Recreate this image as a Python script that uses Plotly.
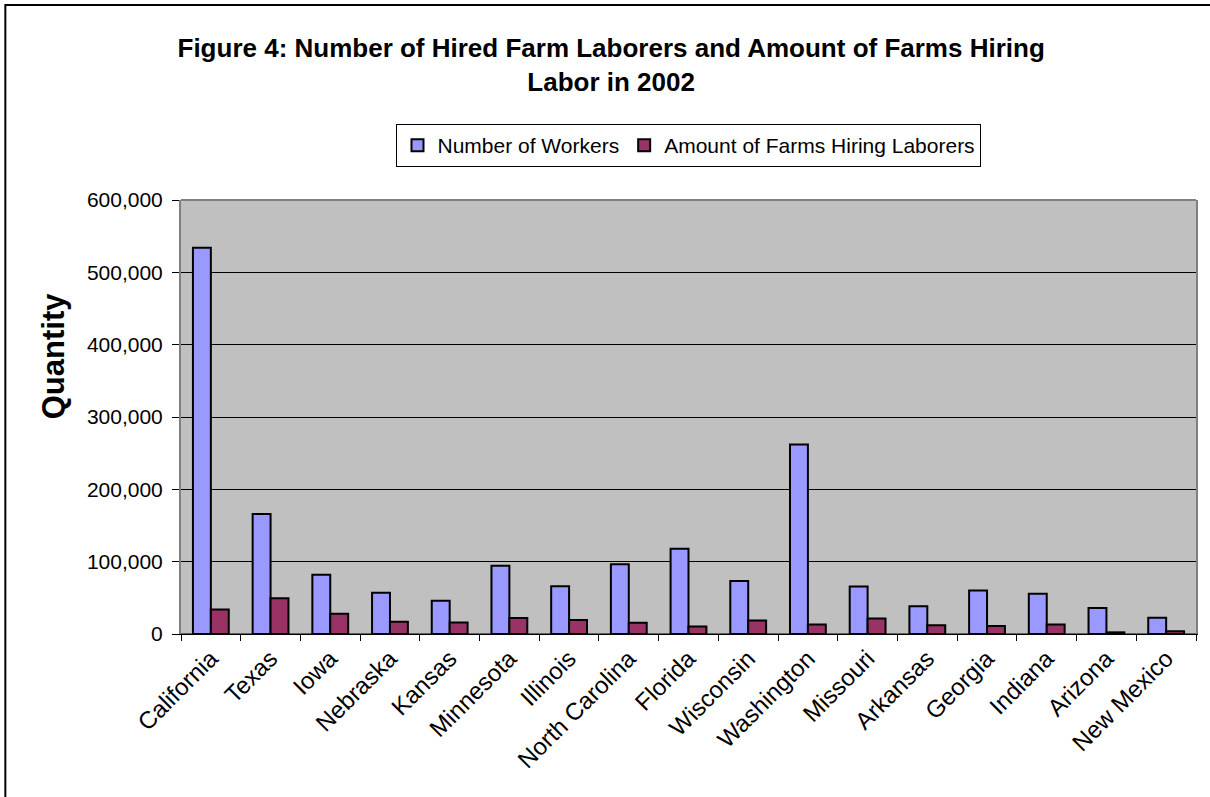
import plotly.graph_objects as go

states = ["California", "Texas", "Iowa", "Nebraska", "Kansas", "Minnesota", "Illinois",
          "North Carolina", "Florida", "Wisconsin", "Washington", "Missouri", "Arkansas",
          "Georgia", "Indiana", "Arizona", "New Mexico"]
workers = [534000, 166000, 82000, 57000, 46000, 94500, 66000,
           96500, 118000, 73400, 262000, 65600, 38500,
           60000, 55500, 36000, 22500]
farms = [34000, 49500, 28000, 17000, 16000, 22000, 19300,
         15600, 10500, 18800, 13300, 21500, 12000,
         11000, 13300, 2300, 3700]
y_ticks = [0, 100000, 200000, 300000, 400000, 500000, 600000]

W, H = 1210, 797
ML, MR, MT, MB = 181, 12, 200, 163
PW, PH = W - ML - MR, H - MT - MB


def px_x(p):
    return (p - ML) / PW


def px_y(p):
    return 1 - (p - MT) / PH


FONT = "Arial, Liberation Sans, sans-serif"

fig = go.Figure()
fig.add_trace(go.Bar(x=states, y=workers, name="Number of Workers",
                     marker=dict(color="#9999FF", line=dict(color="black", width=2))))
fig.add_trace(go.Bar(x=states, y=farms, name="Amount of Farms Hiring Laborers",
                     marker=dict(color="#993366", line=dict(color="black", width=2))))

fig.update_layout(
    width=W, height=H,
    autosize=False,
    margin=dict(l=ML, r=MR, t=MT, b=MB, pad=0),
    paper_bgcolor="white",
    plot_bgcolor="#C0C0C0",
    barmode="group",
    bargap=0.4,
    bargroupgap=0,
    font=dict(family=FONT, color="black"),
    title=dict(text="<b>Figure 4: Number of Hired Farm Laborers and Amount of Farms Hiring<br>Labor in 2002</b>",
               x=px_x(612), xref="paper", xanchor="center",
               y=1 - 57 / H, yref="container", yanchor="top",
               font=dict(size=26, family=FONT, color="black")),
    legend=dict(orientation="h", x=px_x(690), xanchor="center",
                y=px_y(124), yanchor="top",
                bordercolor="black", borderwidth=1, bgcolor="white",
                font=dict(size=21, family=FONT, color="black"),
                itemwidth=30, traceorder="normal",
                tracegroupgap=0),
    showlegend=True,
)
fig.update_xaxes(
    type="category",
    tickangle=-45,
    tickfont=dict(size=24, family=FONT, color="black"),
    ticks="outside", tickson="boundaries", ticklen=6, tickcolor="black",
    showline=True, linecolor="black", linewidth=1,
    showgrid=False,
)
fig.update_yaxes(
    range=[0, 600000],
    tickvals=y_ticks,
    tickformat=",d",
    tickfont=dict(size=21, family=FONT, color="black"),
    ticks="outside", ticklen=7, tickcolor="black",
    ticklabelstandoff=5,
    showline=True, linecolor="#808080", linewidth=2, mirror=True,
    showgrid=True, gridcolor="black", gridwidth=1,
    zeroline=False,
)
fig.add_shape(type="line", xref="paper", yref="paper", x0=0, x1=1, y0=1, y1=1,
              line=dict(color="#808080", width=2))
fig.add_shape(type="line", xref="paper", yref="paper", x0=0, x1=1, y0=0, y1=0,
              line=dict(color="black", width=1))
# outer chart frame
fig.add_shape(type="rect", xref="paper", yref="paper",
              x0=px_x(5), x1=px_x(1230), y0=px_y(5), y1=px_y(820),
              line=dict(color="black", width=2), fillcolor="rgba(0,0,0,0)", layer="below")
fig.add_annotation(text="<b>Quantity</b>", xref="paper", yref="paper",
                   x=px_x(53), y=px_y(356), textangle=-90, showarrow=False,
                   xanchor="center", yanchor="middle",
                   font=dict(size=31, family=FONT, color="black"))

fig.write_html("out.html", config={"displayModeBar": False},
               post_script="document.body.style.margin='0px';")
